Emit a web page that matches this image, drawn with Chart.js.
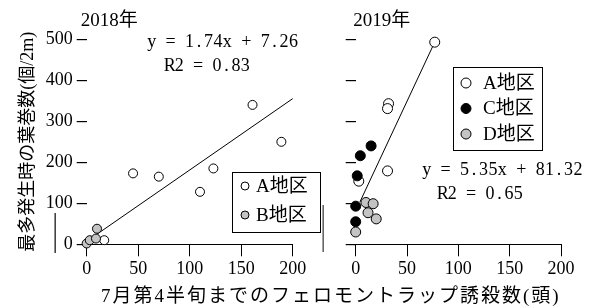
<!DOCTYPE html>
<html><head><meta charset="utf-8">
<script src="https://cdn.jsdelivr.net/npm/chart.js@4"></script>
<style>
html,body{margin:0;padding:0;background:#fff;overflow:hidden}
#wrap{position:relative;width:592px;height:307px;background:#fff}
canvas{position:absolute;left:0;top:0}
</style></head>
<body><div id="wrap"><canvas id="c1" width="592" height="307"></canvas><canvas id="c2" width="592" height="307"></canvas></div>
<script>
// ---- data ----
const xTicks = [0, 50, 100, 150, 200];
const yTicks = [0, 100, 200, 300, 400, 500];
const panelTitles = ['2018年', '2019年'];
const xTitle = '7月第4半旬までのフェロモントラップ誘殺数(頭)';
const yTitle = '最多発生時の葉巻数(個/2m)';

// 2018
const a2018X = [17, 45, 70, 110, 123, 161, 189];
const a2018Y = [10, 173, 165, 128, 185, 340, 250];
const b2018X = [0, 3, 9, 10];
const b2018Y = [2, 10, 14, 38];
const fit2018 = {slope: 1.74, intercept: 7.26, r2: 0.83};
const fit2018Range = [5, 200];

// 2019
const a2019X = [77, 32, 31, 31, 3];
const a2019Y = [493, 343, 331, 179, 154];
const c2019X = [15, 4.5, 1.5, 0, 0];
const c2019Y = [240, 216, 167, 93, 55];
const d2019X = [10, 17, 12, 20, 0];
const d2019Y = [102, 99, 77, 62, 30];
const fit2019 = {slope: 5.35, intercept: 81.32, r2: 0.65};
const fit2019Range = [4, 77];

const labelsA = 'A地区', labelsB = 'B地区', labelsC = 'C地区', labelsD = 'D地区';

// ---- helpers ----
const FONT = "'Liberation Serif','Noto Sans CJK JP',serif";
const GREY = '#c4c4c4';
const pts = (xs, ys) => xs.map((x, i) => ({x, y: ys[i]}));
const fitLine = (f, r) => r.map(x => ({x, y: f.slope * x + f.intercept}));
const eqText = f => 'y = ' + f.slope.toFixed(2) + 'x + ' + f.intercept.toFixed(2);
const r2Text = f => 'R2 = ' + f.r2.toFixed(2);

function mono(ctx, s, x0, y, cell) {
  ctx.textAlign = 'center';
  for (let i = 0; i < s.length; i++) {
    if (s[i] !== ' ') ctx.fillText(s[i], x0 + i * cell + cell / 2, y);
  }
}

const decor = {
  id: 'decor',
  afterDatasetsDraw(chart, args, o) {
    const ctx = chart.ctx, ca = chart.chartArea;
    ctx.save();
    ctx.fillStyle = '#000';
    ctx.textBaseline = 'middle';
    // panel title
    ctx.font = '19px ' + FONT;
    ctx.textAlign = 'left';
    ctx.fillText(o.title, ca.left + o.titleDx, 21);
    // equation
    ctx.font = '18px ' + FONT;
    mono(ctx, o.eq, o.eqX, o.eqY, 9.45);
    mono(ctx, o.r2, o.r2X, o.r2Y, 9.45);
    // legend
    const L = o.legend;
    ctx.lineWidth = 1;
    ctx.strokeStyle = '#000';
    ctx.strokeRect(L.x + 0.5, L.y + 0.5, L.w, L.h);
    const items = chart.data.datasets.filter(d => d.inLegend);
    items.forEach((d, i) => {
      const yy = L.y + L.first + i * L.step;
      ctx.beginPath();
      ctx.arc(L.x + L.mx, yy, L.r, 0, Math.PI * 2);
      ctx.fillStyle = d.backgroundColor;
      ctx.fill();
      ctx.strokeStyle = '#000';
      ctx.stroke();
      ctx.fillStyle = '#000';
      ctx.font = '19px ' + FONT;
      ctx.textAlign = 'left';
      ctx.fillText(d.label, L.x + L.tx, yy + 1);
    });
    // stray vertical line
    ctx.strokeStyle = o.stray.color;
    ctx.lineWidth = 1.6;
    ctx.beginPath();
    ctx.moveTo(ca.left + o.stray.dx, o.stray.y0);
    ctx.lineTo(ca.left + o.stray.dx, o.stray.y1);
    ctx.stroke();
    // shared x title
    if (o.xTitle) {
      ctx.fillStyle = '#000';
      ctx.font = '19px ' + FONT;
      ctx.textAlign = 'left';
      ctx.letterSpacing = '2px';
      ctx.fillText(o.xTitle, 101, 297);
      ctx.letterSpacing = '0px';
    }
    ctx.restore();
  }
};

function scales(yW, showYLabels) {
  return {
    x: {
      type: 'linear', min: 0, max: 200,
      afterBuildTicks: s => { s.ticks = xTicks.map(v => ({value: v})); },
      afterFit: s => { s.height = 62.7; },
      grid: {drawOnChartArea: false, drawTicks: true, tickLength: 12, color: '#000', lineWidth: 1},
      border: {display: true, color: '#000', width: 1},
      ticks: {color: '#000', font: {family: FONT, size: 18}, padding: 2, maxRotation: 0}
    },
    y: {
      type: 'linear', min: 0, max: 500,
      afterBuildTicks: s => { s.ticks = yTicks.map(v => ({value: v})); },
      afterFit: s => { s.width = yW; },
      grid: {drawOnChartArea: false, drawTicks: true, tickLength: 10, color: '#000', lineWidth: 1.2},
      border: {display: false},
      ticks: {color: '#000', font: {family: FONT, size: 18}, padding: 4,
        callback: v => showYLabels ? String(v) : ''},
      title: showYLabels ? {display: true, text: yTitle, color: '#000',
        font: {family: FONT, size: 18}, padding: {top: 17, bottom: 0}} : {display: false}
    }
  };
}

const common = {
  responsive: false, animation: false, devicePixelRatio: 1,
  plugins: {legend: {display: false}, tooltip: {enabled: false}},
  elements: {point: {borderWidth: 1, borderColor: '#000'}}
};

new Chart(document.getElementById('c1'), {
  type: 'scatter',
  data: {datasets: [
    {type: 'line', data: fitLine(fit2018, fit2018Range), borderColor: '#000', borderWidth: 1,
     pointRadius: 0, showLine: true, order: 10, clip: false},
    {label: labelsA, data: pts(a2018X, a2018Y), backgroundColor: '#fff', borderColor: '#000',
     pointRadius: 4.5, order: 2, clip: false, inLegend: true},
    {label: labelsB, data: pts(b2018X, b2018Y), backgroundColor: GREY, borderColor: '#000',
     pointRadius: 4.5, order: 1, clip: false, inLegend: true}
  ]},
  options: Object.assign({}, common, {
    layout: {padding: {left: 0, right: 299.3, top: 39.3, bottom: 0}},
    scales: scales(86.7, true),
    plugins: Object.assign({}, common.plugins, {decor: {
      title: panelTitles[0], titleDx: -6,
      eq: eqText(fit2018), eqX: 147, eqY: 42,
      r2: r2Text(fit2018), r2X: 165, r2Y: 66,
      legend: {x: 232, y: 172, w: 88, h: 60, first: 14, step: 29, mx: 13, r: 4, tx: 24},
      stray: {dx: -31.5, y0: 213, y1: 253, color: '#444'},
      xTitle: xTitle
    }})
  }),
  plugins: [decor]
});

new Chart(document.getElementById('c2'), {
  type: 'scatter',
  data: {datasets: [
    {type: 'line', data: fitLine(fit2019, fit2019Range), borderColor: '#000', borderWidth: 1,
     pointRadius: 0, showLine: true, order: 10, clip: false},
    {label: labelsA, data: pts(a2019X, a2019Y), backgroundColor: '#fff', borderColor: '#000',
     pointRadius: 5, order: 3, clip: false, inLegend: true},
    {label: labelsC, data: pts(c2019X, c2019Y), backgroundColor: '#000', borderColor: '#000',
     pointRadius: 5, order: 2, clip: false, inLegend: true},
    {label: labelsD, data: pts(d2019X, d2019Y), backgroundColor: GREY, borderColor: '#000',
     pointRadius: 5, order: 1, clip: false, inLegend: true}
  ]},
  options: Object.assign({}, common, {
    layout: {padding: {left: 300, right: 31, top: 39.3, bottom: 0}},
    scales: scales(55.7, false),
    plugins: Object.assign({}, common.plugins, {decor: {
      title: panelTitles[1], titleDx: -2.5,
      eq: eqText(fit2019), eqX: 422, eqY: 170,
      r2: r2Text(fit2019), r2X: 438, r2Y: 194,
      legend: {x: 453, y: 67, w: 89, h: 83, first: 16, step: 25.5, mx: 13, r: 5, tx: 30},
      stray: {dx: -32.5, y0: 205, y1: 252, color: '#666'},
      xTitle: null
    }})
  }),
  plugins: [decor]
});
</script>
</body></html>
